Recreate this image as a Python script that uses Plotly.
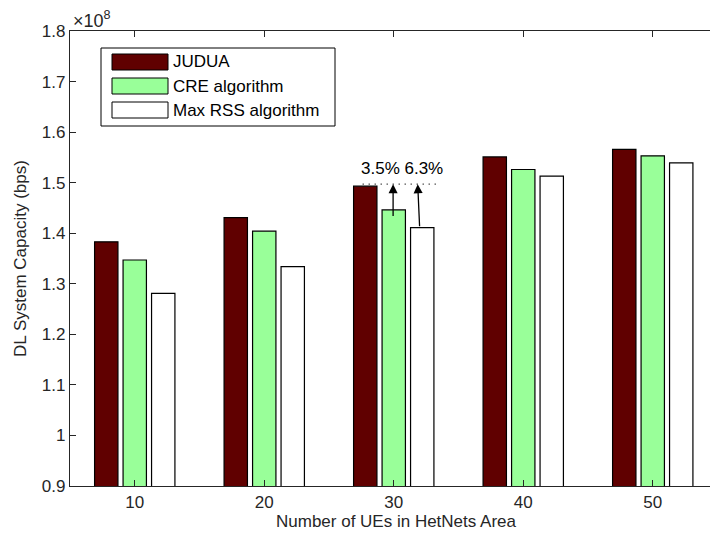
import plotly.graph_objects as go

# Data (DL system capacity in units of 1e8 bps)
num_ues = [10, 20, 30, 40, 50]
judua = [1.383, 1.431, 1.493, 1.551, 1.566]
cre = [1.347, 1.404, 1.446, 1.526, 1.553]
maxrss = [1.281, 1.334, 1.411, 1.513, 1.539]
series_names = ["JUDUA", "CRE algorithm", "Max RSS algorithm"]
series_colors = ["#600000", "#99FF99", "#FFFFFF"]
ytick_vals = [0.9, 1.0, 1.1, 1.2, 1.3, 1.4, 1.5, 1.6, 1.7, 1.8]
ytick_text = ["0.9", "1", "1.1", "1.2", "1.3", "1.4", "1.5", "1.6", "1.7", "1.8"]
gain_text = "3.5% 6.3%"

FONT = "Liberation Sans, Arial, Helvetica, sans-serif"
AX = "#262626"
FS = 17

fig = go.Figure()
for name, vals, col in zip(series_names, [judua, cre, maxrss], series_colors):
    fig.add_trace(go.Bar(x=num_ues, y=vals, name=name, marker_color=col,
                         marker_line_color="#000000", marker_line_width=1.2,
                         showlegend=False))

L, R, T, B = 70, 0, 31, 53
W, H = 710, 539
pw, ph = W - L - R, H - T - B

def px(x):
    return (x - L) / pw

def py(y):
    return (H - B - y) / ph

shapes = []
annotations = []

# Custom MATLAB-style legend
shapes.append(dict(type="rect", xref="paper", yref="paper", x0=px(101), x1=px(335),
                   y0=py(126), y1=py(48), line=dict(color="#000000", width=1),
                   fillcolor="#FFFFFF", layer="above"))
rows = [62, 86, 110]
for name, col, rc in zip(series_names, series_colors, rows):
    shapes.append(dict(type="rect", xref="paper", yref="paper", x0=px(112), x1=px(168),
                       y0=py(rc + 8), y1=py(rc - 8), line=dict(color="#000000", width=1),
                       fillcolor=col, layer="above"))
    annotations.append(dict(xref="paper", yref="paper", x=px(171), y=py(rc), text=name,
                            showarrow=False, xanchor="left", yanchor="middle",
                            font=dict(family=FONT, size=FS, color="#000000")))

# Dotted reference line at JUDUA level for 30 UEs
ref_y = judua[2] + 0.004
shapes.append(dict(type="line", xref="x", yref="y", x0=27.6, x1=33.3, y0=ref_y, y1=ref_y,
                   line=dict(color="#000000", width=1.3, dash="1px,5px")))

# Arrows from CRE and Max RSS bars to the reference line
annotations.append(dict(xref="x", yref="y", axref="x", ayref="y", x=29.95, y=ref_y,
                        ax=29.95, ay=cre[2] - 0.015, showarrow=True, arrowhead=2,
                        arrowsize=1.4, arrowwidth=1.3, arrowcolor="#000000", text=""))
annotations.append(dict(xref="x", yref="y", axref="x", ayref="y", x=31.85, y=ref_y,
                        ax=32.0, ay=maxrss[2], showarrow=True, arrowhead=2,
                        arrowsize=1.4, arrowwidth=1.3, arrowcolor="#000000", text=""))
annotations.append(dict(xref="x", yref="y", x=30.65, y=1.529, text=gain_text, showarrow=False,
                        xanchor="center", yanchor="middle",
                        font=dict(family=FONT, size=FS, color="#000000")))

# Exponent label
annotations.append(dict(xref="paper", yref="paper", x=px(71), y=1.0, text="×10<sup>8</sup>",
                        showarrow=False, xanchor="left", yanchor="bottom", yshift=-2,
                        font=dict(family=FONT, size=18, color=AX)))

# X axis title
annotations.append(dict(xref="x", yref="paper", x=30.2, y=py(521), text="Number of UEs in HetNets Area",
                        showarrow=False, xanchor="center", yanchor="middle",
                        font=dict(family=FONT, size=FS, color=AX)))

fig.update_layout(
    width=W, height=H,
    margin=dict(l=L, r=R, t=T, b=B, pad=0),
    paper_bgcolor="#FFFFFF", plot_bgcolor="#FFFFFF",
    barmode="group", bargap=0.34, bargroupgap=0.18,
    font=dict(family=FONT, size=FS, color=AX),
    shapes=shapes, annotations=annotations,
    xaxis=dict(range=[5, 5 + pw / 12.95], tickvals=num_ues, ticks="inside", ticklen=6,
               tickcolor=AX, showline=True, linecolor=AX, linewidth=1.2, mirror="ticks",
               showgrid=False, zeroline=False, tickfont=dict(family=FONT, size=FS, color=AX)),
    yaxis=dict(range=[0.9, 1.8], tickvals=ytick_vals, ticktext=ytick_text, ticks="inside",
               ticklen=6, tickcolor=AX, showline=True, linecolor=AX, linewidth=1.2,
               showgrid=False, zeroline=False, tickfont=dict(family=FONT, size=FS, color=AX),
               title=dict(text="DL System Capacity (bps)", standoff=10,
                          font=dict(family=FONT, size=FS, color=AX))),
)

fig.write_html("out.html")
